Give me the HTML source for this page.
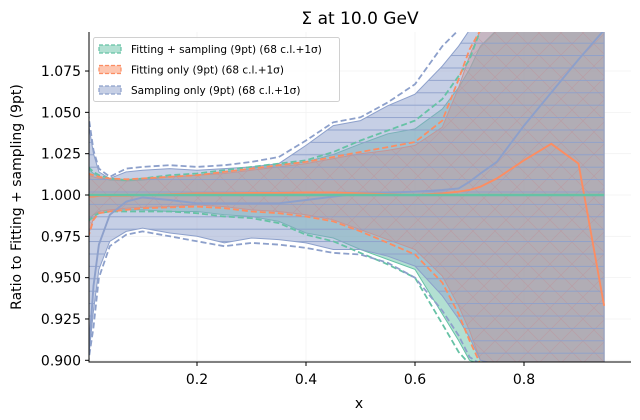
<!DOCTYPE html>
<html><head><meta charset="utf-8">
<style>
html,body{margin:0;padding:0;background:#fff;width:640px;height:420px;overflow:hidden;}
svg{display:block;font-family:"DejaVu Sans","Liberation Sans",sans-serif;}
</style></head>
<body>
<svg id="chart" width="640" height="420" viewBox="0 0 640 420" xmlns="http://www.w3.org/2000/svg">
<defs>
<clipPath id="plotclip"><rect x="89" y="32" width="542" height="330"/></clipPath>
<pattern id="hatchX" width="22" height="22" patternUnits="userSpaceOnUse">
<path d="M0,0L22,22M22,0L0,22" stroke="#e8866a" stroke-width="0.7" opacity="0.6"/>
</pattern>
<pattern id="hatchH" width="12" height="12.4" patternUnits="userSpaceOnUse">
<path d="M0,6L12,6" stroke="#8da0cb" stroke-width="0.9"/>
</pattern>
</defs>
<text x="360" y="24" font-size="17" text-anchor="middle" fill="#000">Σ at 10.0 GeV</text>
<text transform="translate(21,197) rotate(-90)" font-size="14" text-anchor="middle" fill="#000">Ratio to Fitting + sampling (9pt)</text>
<text x="359" y="408" font-size="14" text-anchor="middle" fill="#000">x</text>
<g id="grid"></g>
<g id="marks" clip-path="url(#plotclip)"></g>
<g id="axes"></g>
<g id="legend"></g>
</svg>
<script>
const xs = [0, 0.01, 0.02, 0.04, 0.07, 0.1, 0.15, 0.2, 0.25, 0.3, 0.35, 0.4, 0.45, 0.5, 0.55, 0.6, 0.65, 0.68, 0.7, 0.72, 0.75, 0.8, 0.85, 0.9, 0.947];
const greenCentral = [1,1,1,1,1,1,1,1,1,1,1,1,1,1,1,1,1,1,1,1,1,1,1,1,1];
const greenUpper = [1.016,1.013,1.011,1.009,1.0085,1.009,1.011,1.012,1.014,1.016,1.018,1.020,1.0245,1.031,1.037,1.040,1.052,1.065,1.076,1.09,1.2,1.2,1.2,1.2,1.2];
const greenLower = [0.985,0.988,0.990,0.991,0.991,0.991,0.990,0.990,0.988,0.987,0.984,0.977,0.974,0.967,0.961,0.955,0.928,0.912,0.900,0.885,0.8,0.8,0.8,0.8,0.8];
const greenDashUpper = [1.017,1.014,1.012,1.010,1.009,1.010,1.012,1.013,1.015,1.017,1.019,1.021,1.026,1.033,1.039,1.045,1.058,1.072,1.082,1.1,1.2,1.2,1.2,1.2,1.2];
const greenDashLower = [0.984,0.987,0.989,0.990,0.990,0.990,0.990,0.989,0.987,0.986,0.983,0.976,0.972,0.965,0.958,0.950,0.922,0.905,0.893,0.88,0.8,0.8,0.8,0.8,0.8];
const orangeCentral = [0.999,0.999,0.9995,0.9995,0.9995,1.0,1.0005,1.001,1.001,1.0012,1.0012,1.0015,1.0015,1.001,1.0005,1.0,1.001,1.002,1.003,1.005,1.01,1.021,1.031,1.019,0.933];
const orangeUpper = [1.012,1.011,1.010,1.0095,1.009,1.0095,1.011,1.012,1.013,1.015,1.017,1.019,1.022,1.025,1.027,1.030,1.041,1.065,1.084,1.1,1.2,1.2,1.2,1.2,1.2];
const orangeLower = [0.975,0.986,0.990,0.991,0.992,0.9925,0.993,0.994,0.993,0.991,0.990,0.988,0.985,0.979,0.973,0.967,0.951,0.933,0.918,0.9,0.8,0.8,0.8,0.8,0.8];
const orangeDashUpper = [1.013,1.012,1.011,1.010,1.0095,1.010,1.011,1.012,1.014,1.016,1.018,1.020,1.023,1.026,1.029,1.032,1.045,1.07,1.088,1.1,1.2,1.2,1.2,1.2,1.2];
const orangeDashLower = [0.974,0.985,0.989,0.990,0.991,0.992,0.9925,0.993,0.992,0.990,0.989,0.987,0.984,0.978,0.971,0.964,0.947,0.928,0.912,0.895,0.8,0.8,0.8,0.8,0.8];
const blueCentral = [0.898,0.945,0.970,0.988,0.996,0.9985,0.997,0.995,0.995,0.995,0.995,0.997,0.999,1.001,1.0015,1.002,1.003,1.004,1.008,1.013,1.02,1.042,1.062,1.082,1.1];
const blueUpper = [1.045,1.025,1.014,1.010,1.014,1.015,1.016,1.015,1.016,1.017,1.019,1.030,1.042,1.045,1.054,1.061,1.078,1.09,1.1,1.2,1.2,1.2,1.2,1.2,1.2];
const blueLower = [0.85,0.93,0.955,0.972,0.978,0.980,0.977,0.975,0.971,0.974,0.973,0.971,0.967,0.967,0.963,0.957,0.939,0.925,0.914,0.9,0.8,0.8,0.8,0.8,0.8];
const blueDashUpper = [1.05,1.027,1.016,1.011,1.016,1.017,1.018,1.017,1.018,1.020,1.023,1.033,1.044,1.047,1.056,1.067,1.09,1.1,1.12,1.2,1.2,1.2,1.2,1.2,1.2];
const blueDashLower = [0.84,0.92,0.95,0.969,0.976,0.978,0.975,0.972,0.969,0.971,0.970,0.968,0.965,0.964,0.959,0.950,0.930,0.915,0.902,0.89,0.8,0.8,0.8,0.8,0.8];
const xTicks = [0.2, 0.4, 0.6, 0.8];
const xTickLabels = ["0.2", "0.4", "0.6", "0.8"];
const yTicks = [0.9, 0.925, 0.95, 0.975, 1.0, 1.025, 1.05, 1.075];
const yTickLabels = ["0.900", "0.925", "0.950", "0.975", "1.000", "1.025", "1.050", "1.075"];
const legendLabels = ["Fitting + sampling (9pt) (68 c.l.+1σ)", "Fitting only (9pt) (68 c.l.+1σ)", "Sampling only (9pt) (68 c.l.+1σ)"];

const NS = "http://www.w3.org/2000/svg";
const PLOT_TOP = 30, PLOT_BOTTOM = 364;
function X(v){ return 88 + v * 545; }
function Y(v){ const p = 195 - (v - 1) * 1653; return Math.max(PLOT_TOP, Math.min(PLOT_BOTTOM, p)); }
function mk(tag, attrs, parent){
  const e = document.createElementNS(NS, tag);
  for (const k in attrs) e.setAttribute(k, attrs[k]);
  parent.appendChild(e);
  return e;
}
function linePath(arr){
  return arr.map((v,i)=>(i?"L":"M")+X(xs[i]).toFixed(1)+","+Y(v).toFixed(1)).join("");
}
function bandPath(up, lo){
  let d = up.map((v,i)=>(i?"L":"M")+X(xs[i]).toFixed(1)+","+Y(v).toFixed(1)).join("");
  for (let i = lo.length-1; i >= 0; i--) d += "L"+X(xs[i]).toFixed(1)+","+Y(lo[i]).toFixed(1);
  return d+"Z";
}
const grid = document.getElementById("grid");
const marks = document.getElementById("marks");
const axes = document.getElementById("axes");
const legend = document.getElementById("legend");

xTicks.forEach((t)=>{
  const g = mk("line", {x1:X(t), x2:X(t), y1:32, y2:362, stroke:"#f2f2f2", "stroke-width":0.8}, grid);
  
  
});
yTicks.forEach((t)=>{
  const g = mk("line", {x1:89, x2:631, y1:Y(t), y2:Y(t), stroke:"#f2f2f2", "stroke-width":0.8}, grid);
  
  
});

const series = [
  {name:"fitting-sampling", color:"#66c2a5", up:greenUpper, lo:greenLower, du:greenDashUpper, dl:greenDashLower, c:greenCentral, op:0.5, hatch:null},
  {name:"fitting-only", color:"#fc8d62", up:orangeUpper, lo:orangeLower, du:orangeDashUpper, dl:orangeDashLower, c:orangeCentral, op:0.45, hatch:"url(#hatchX)"},
  {name:"sampling-only", color:"#8da0cb", up:blueUpper, lo:blueLower, du:blueDashUpper, dl:blueDashLower, c:blueCentral, op:0.5, hatch:"url(#hatchH)"}
];
series.forEach(s=>{
  const b = mk("path", {d:bandPath(s.up, s.lo), fill:s.color, "fill-opacity":s.op, stroke:s.color, "stroke-width":1}, marks);
  
  
  if (s.hatch){
    const h = mk("path", {d:bandPath(s.up, s.lo), fill:s.hatch}, marks);
    
    
  }
});
series.forEach(s=>{
  [s.du, s.dl].forEach((arr, k)=>{
    const d = mk("path", {d:linePath(arr), fill:"none", stroke:s.color, "stroke-width":1.8, "stroke-dasharray":"6,3"}, marks);
    
    
  });
});
[series[2], series[1], series[0]].forEach(s=>{
  const l = mk("path", {d:linePath(s.c), fill:"none", stroke:s.color, "stroke-width":s.name==="fitting-sampling"?2.4:1.9}, marks);
  
  
});

const la = mk("line", {x1:89, x2:89, y1:32, y2:362.5, stroke:"#000", "stroke-width":1}, axes);


const ba = mk("line", {x1:88.5, x2:631, y1:362, y2:362, stroke:"#000", "stroke-width":1}, axes);


xTicks.forEach((t,i)=>{
  const tk = mk("line", {x1:X(t), x2:X(t), y1:362, y2:366, stroke:"#000", "stroke-width":1}, axes);
  
  
  const tx = mk("text", {x:X(t), y:384, "font-size":14, "text-anchor":"middle", fill:"#000"}, axes);
  tx.textContent = xTickLabels[i];
  
  
});
yTicks.forEach((t,i)=>{
  const tk = mk("line", {x1:85, x2:89, y1:Y(t), y2:Y(t), stroke:"#000", "stroke-width":1}, axes);
  
  
  const tx = mk("text", {x:81, y:Y(t)+5, "font-size":14, "text-anchor":"end", fill:"#000"}, axes);
  tx.textContent = yTickLabels[i];
  
  
});

const lb = mk("rect", {x:93.5, y:37.5, width:246, height:64, rx:2, fill:"#fff", "fill-opacity":0.85, stroke:"#d0d0d0", "stroke-width":1}, legend);


series.forEach((s,i)=>{
  const y = 49 + i*20.5;
  const sw = mk("rect", {x:99, y:y-4, width:22, height:8, fill:s.color, "fill-opacity":0.5, stroke:s.color, "stroke-width":1.2, "stroke-dasharray":"4,2"}, legend);
  
  
  const tx = mk("text", {x:131, y:y+3.8, "font-size":10.5, fill:"#000"}, legend);
  tx.textContent = legendLabels[i];
  
  
});
</script>
</body></html>
